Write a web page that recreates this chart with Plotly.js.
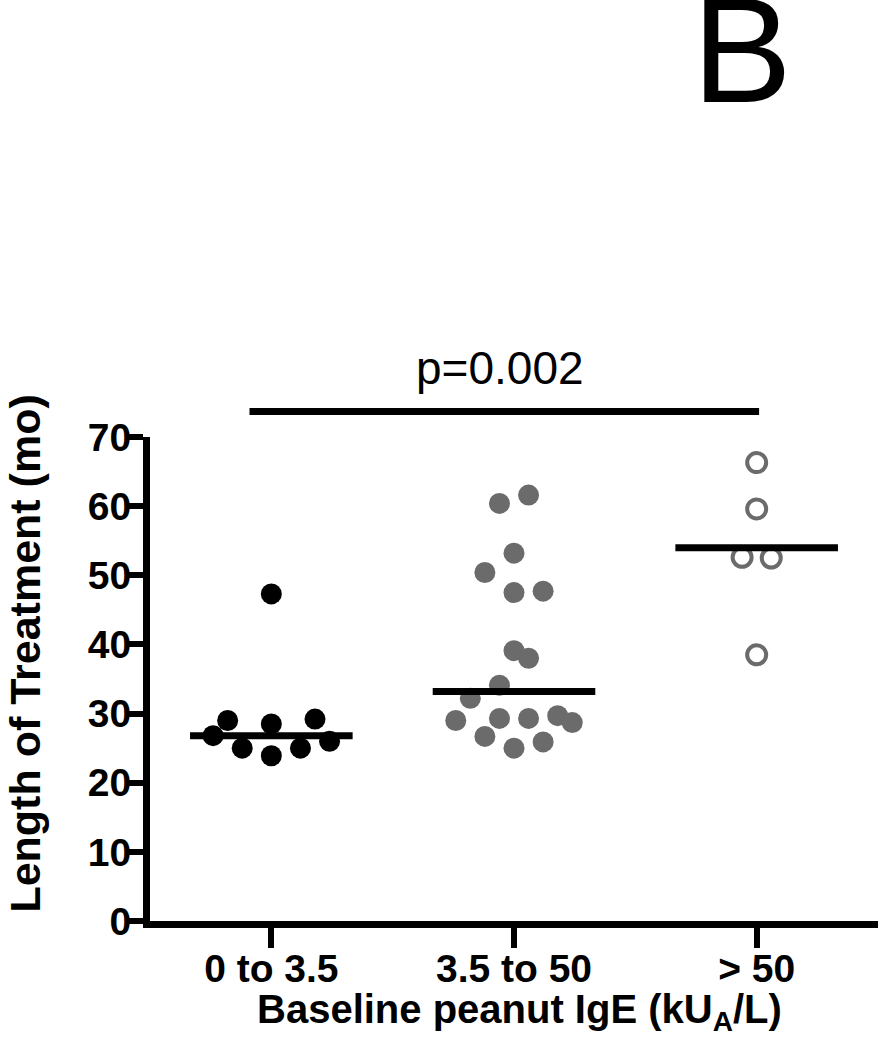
<!DOCTYPE html>
<html>
<head>
<meta charset="utf-8">
<script src="https://cdn.plot.ly/plotly-3.0.1.min.js"></script>
<style>
  html, body { margin: 0; padding: 0; background: #fff; }
  #chart { width: 878px; height: 1050px; }
</style>
</head>
<body>
<div id="chart"></div>
<script>
// groups on the x axis
const categories = ['0 to 3.5', '3.5 to 50', '> 50'];

// length of treatment (months), one value per patient
const lowIgE = [47.3, 29.0, 28.5, 29.2, 26.8, 25.0, 23.9, 25.0, 26.0];
const midIgE = [60.4, 61.6, 53.2, 50.4, 47.5, 47.7, 39.1, 38.0, 34.1,
                32.2, 29.0, 29.3, 29.3, 29.7, 28.7, 26.7, 25.0, 25.9];
const highIgE = [66.3, 59.6, 52.6, 52.5, 38.5];

// side-by-side slot of each dot inside its column (scatter-dot layout)
const lowSlots = [0, -3, 0, 3, -4, -2, 0, 2, 4];
const midSlots = [-1, 1, 0, -2, 0, 2, 0, 1, -1, -3, -4, -1, 1, 3, 4, -2, 0, 2];
const highSlots = [0, 0, -1, 1, 0];

// horizontal summary bar of each group
const groupLines = [26.8, 33.2, 54.0];

const pLabel = 'p=0.002';
const xTitle = 'Baseline peanut IgE (kU<sub>A</sub>/L)';
const yTitle = 'Length of Treatment (mo)';

const SLOT = 0.06;      // width of one slot in category units
const HALF = 0.335;     // half length of the summary bar
const GREY = '#6b6b6b';
const FAMILY = 'Liberation Sans, Arial, sans-serif';

function xs(idx, slots) {
  return slots.map(s => idx + s * SLOT);
}

const traces = [
  {
    x: xs(0, lowSlots), y: lowIgE,
    type: 'scatter', mode: 'markers',
    marker: { size: 21, color: '#000', line: { width: 0 } },
    cliponaxis: false, hoverinfo: 'y'
  },
  {
    x: xs(1, midSlots), y: midIgE,
    type: 'scatter', mode: 'markers',
    marker: { size: 21, color: GREY, line: { width: 0 } },
    cliponaxis: false, hoverinfo: 'y'
  },
  {
    x: xs(2, highSlots), y: highIgE,
    type: 'scatter', mode: 'markers',
    marker: { size: 19, color: GREY, symbol: 'circle-open',
              line: { width: 4, color: GREY } },
    cliponaxis: false, hoverinfo: 'y'
  }
];

groupLines.forEach((v, i) => {
  traces.push({
    x: [i - HALF, i + HALF], y: [v, v],
    type: 'scatter', mode: 'lines',
    line: { color: '#000', width: 7 },
    hoverinfo: 'skip'
  });
});

const tickFont = { family: FAMILY, size: 39, color: '#000', weight: 'bold' };

const layout = {
  width: 878,
  height: 1050,
  margin: { l: 150, r: 0, t: 437, b: 129 },
  paper_bgcolor: '#fff',
  plot_bgcolor: '#fff',
  showlegend: false,
  xaxis: {
    range: [-0.5, 2.5],
    tickvals: [0, 1, 2],
    ticktext: categories,
    showgrid: false, zeroline: false,
    showline: true, linecolor: '#000', linewidth: 7,
    ticks: 'outside', ticklen: 20, tickwidth: 6, tickcolor: '#000',
    tickfont: tickFont,
    ticklabelstandoff: -13
  },
  yaxis: {
    range: [0, 70],
    dtick: 10,
    showgrid: false, zeroline: false,
    showline: true, linecolor: '#000', linewidth: 7,
    ticks: 'outside', ticklen: 18, tickwidth: 6, tickcolor: '#000',
    tickfont: tickFont,
    ticklabelstandoff: -14
  },
  shapes: [
    {
      type: 'line', xref: 'x', yref: 'paper',
      x0: -0.09, x1: 2.01, y0: 73.7 / 70, y1: 73.7 / 70,
      line: { color: '#000', width: 7 }
    }
  ],
  annotations: [
    {
      text: yTitle, xref: 'paper', yref: 'paper',
      x: -0.172, y: 0.552, xanchor: 'center', yanchor: 'middle',
      textangle: -90, showarrow: false,
      font: { family: FAMILY, size: 43, color: '#000', weight: 'bold' }
    },
    {
      text: xTitle, xref: 'paper', yref: 'paper',
      x: 0.507, y: -0.187, xanchor: 'center', yanchor: 'middle',
      showarrow: false,
      font: { family: FAMILY, size: 40, color: '#000', weight: 'bold' }
    },
    {
      text: pLabel, xref: 'x', yref: 'paper',
      x: 0.944, y: 1.142, xanchor: 'center', yanchor: 'middle',
      showarrow: false,
      font: { family: FAMILY, size: 46, color: '#000' }
    },
    {
      text: 'B', xref: 'paper', yref: 'paper',
      x: 0.813, y: 1.80, xanchor: 'center', yanchor: 'middle',
      showarrow: false,
      font: { family: FAMILY, size: 150, color: '#000' }
    }
  ]
};

Plotly.newPlot('chart', traces, layout, { displayModeBar: false, staticPlot: true });
</script>
</body>
</html>
